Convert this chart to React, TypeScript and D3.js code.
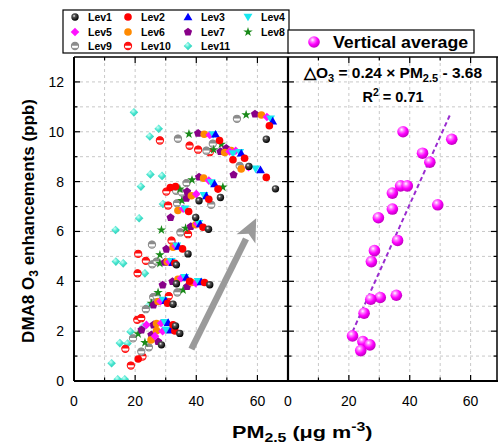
import React from "react";
import * as d3 from "d3";

// ---------------- data ----------------
type P = [number, number];
const lev1: P[] = [[62.9,9.70],[57.2,8.61],[65.9,7.71],[47.9,7.36],[40.9,7.23],[39.8,6.56],[44.0,6.09],[37.3,5.10],[33.5,4.66],[33.5,3.90],[44.4,3.86],[32.4,3.08],[33.2,2.21],[34.6,1.91],[28.6,1.45]];
const lev2: P[] = [[63.9,10.24],[47.6,9.65],[55.8,8.94],[52.0,8.88],[62.9,8.17],[47.1,7.70],[44.1,7.29],[31.5,7.76],[33.2,7.80],[37.5,6.80],[42.2,6.17],[35.5,5.30],[33.0,4.72],[37.8,4.00],[42.7,3.95],[30.6,3.12],[32.4,2.25],[33.0,2.01],[21.0,0.88]];
const lev3: P[] = [[65.0,10.43],[46.3,9.90],[54.7,9.14],[61.0,8.47],[46.0,7.91],[43.3,7.43],[41.3,6.30],[34.2,5.40],[32.3,4.75],[36.8,4.16],[41.6,3.98],[30.0,3.22],[30.8,2.34],[31.6,2.04]];
const lev4: P[] = [[64.3,10.52],[45.5,9.89],[54.2,9.17],[52.0,9.12],[59.4,8.51],[44.9,7.96],[42.5,7.45],[36.3,6.91],[40.8,6.33],[33.6,5.42],[31.8,4.80],[36.2,4.16],[40.6,4.00],[29.2,3.25],[29.7,2.35],[30.1,2.05]];
const lev5: P[] = [[63.1,10.59],[44.4,9.87],[52.9,9.24],[50.9,9.21],[57.1,8.58],[44.1,8.04],[40.0,7.50],[35.7,6.91],[40.3,6.31],[33.2,5.42],[31.2,4.78],[35.0,4.12],[39.8,3.92],[28.3,3.20],[23.7,2.25],[28.5,2.32],[29.0,2.00],[26.5,1.80]];
const lev6: P[] = [[61.3,10.67],[42.6,9.90],[49.3,9.17],[51.4,9.25],[54.7,8.51],[42.4,8.14],[38.4,7.43],[34.0,6.84],[39.8,6.27],[32.4,5.37],[30.5,4.78],[34.0,4.08],[38.5,3.95],[27.5,3.19],[27.0,2.31],[27.0,2.02],[25.2,1.65]];
const lev7: P[] = [[59.2,10.71],[40.6,9.94],[47.9,9.21],[49.8,9.34],[52.2,8.27],[40.9,8.18],[37.0,7.60],[36.8,7.33],[31.6,6.56],[38.2,6.20],[30.2,5.29],[29.7,4.76],[32.2,3.99],[29.0,3.85],[37.0,3.79],[26.0,3.05],[22.1,2.05],[26.0,2.25],[25.3,1.85],[27.5,1.58]];
const lev8: P[] = [[56.3,10.68],[37.6,9.91],[48.2,9.50],[45.7,9.28],[38.6,8.07],[48.7,7.78],[34.6,7.70],[35.3,7.24],[28.6,6.06],[36.5,6.13],[28.1,5.06],[28.1,4.72],[27.5,3.55],[35.7,3.65],[25.3,3.12],[21.0,1.89],[23.2,1.54]];
const lev9: P[] = [[53.3,10.52],[34.0,9.72],[45.4,9.52],[43.3,9.24],[54.2,8.63],[36.8,7.94],[33.4,7.63],[35.3,7.56],[33.7,7.13],[44.9,7.07],[34.8,5.96],[25.5,5.47],[25.6,4.68],[27.0,4.79],[33.8,3.55],[25.9,3.36],[27.0,3.39],[23.5,2.88],[19.3,1.71],[22.0,1.18],[24.5,1.35]];
const lev10: P[] = [[37.8,9.44],[28.1,9.65],[40.6,9.28],[44.4,9.18],[30.2,7.60],[30.8,7.04],[37.3,5.89],[31.9,5.63],[21.0,5.10],[23.5,4.82],[20.8,4.32],[31.0,3.40],[20.7,2.45],[22.0,2.52],[16.8,1.29],[22.4,0.98],[18.6,0.62]];
const lev11: P[] = [[19.6,10.78],[27.7,10.12],[24.8,9.81],[25.0,8.29],[28.8,8.23],[21.9,7.80],[29.1,7.10],[21.3,6.53],[13.6,6.06],[13.7,4.79],[16.1,4.72],[23.2,4.32],[24.2,3.00],[22.6,2.18],[18.5,1.98],[15.0,1.52],[17.5,1.50],[12.3,0.71],[14.3,0.07],[16.6,0.07]];

const levelNames = ["Lev1","Lev2","Lev3","Lev4","Lev5","Lev6","Lev7","Lev8","Lev9","Lev10","Lev11"];
const levelData = [lev1,lev2,lev3,lev4,lev5,lev6,lev7,lev8,lev9,lev10,lev11];

const avgX = [37.8,53.8,44.2,46.6,37.0,39.2,34.3,49.2,34.3,29.7,36.0,28.4,27.4,35.6,30.3,27.2,25.0,21.2,24.6,26.9,23.9];
const avgY = [10.0,9.7,9.14,8.78,7.83,7.83,7.54,7.07,6.9,6.55,5.64,5.23,4.79,3.44,3.35,3.28,2.72,1.81,1.58,1.45,1.22];

const fitX = [21.2, 53.3];
const fitY = [1.98, 10.7];

const arrowX = [38.4, 59.6];
const arrowY = [1.28, 6.53];

const xTickLabels = [0, 20, 40, 60];
const yTickLabels = [0, 2, 4, 6, 8, 10, 12];

// ---------------- layout ----------------
const W = 499, H = 446;
const top = 57, bottom = 381;
const lx0 = 74, mid = 288, rx1 = 498;
const xL = d3.scaleLinear().domain([0, 70]).range([lx0, mid]);
const xR = d3.scaleLinear().domain([0, 69]).range([mid, rx1]);
const y = d3.scaleLinear().domain([0, 13]).range([bottom, top]);
const FONT = "'Liberation Sans', Arial, Helvetica, sans-serif";

const kinds = ["blackSphere","red","triUp","triDown","diamond","orange","pentagon","star","halfGray","halfRed","diamondCyan"];

function pentagon(r: number) {
  const pts = d3.range(5).map(i => {
    const a = -Math.PI / 2 + (i * 2 * Math.PI) / 5;
    return [r * Math.cos(a), r * Math.sin(a)];
  });
  return "M" + pts.map(p => p.join(",")).join("L") + "Z";
}
const triPath = d3.symbol().type(d3.symbolTriangle).size(34)() as string;
const starPath = d3.symbol().type(d3.symbolStar).size(28)() as string;

function Marker({ kind, cx, cy }: { kind: string; cx: number; cy: number }) {
  const t = `translate(${cx},${cy})`;
  switch (kind) {
    case "blackSphere":
      return <circle cx={cx} cy={cy} r={3.7} fill="url(#gBlack)" />;
    case "red":
      return <circle cx={cx} cy={cy} r={3.8} fill="#ff0000" />;
    case "orange":
      return <circle cx={cx} cy={cy} r={3.8} fill="#ff8a00" />;
    case "triUp":
      return <path transform={`translate(${cx},${cy + 0.8})`} d={triPath} fill="#0000ff" />;
    case "triDown":
      return <path transform={`translate(${cx},${cy - 0.8}) rotate(180)`} d={triPath} fill="#18e8f0" />;
    case "diamond":
      return <path transform={t} d="M0,-4.3L4.3,0L0,4.3L-4.3,0Z" fill="#ff10ff" />;
    case "diamondCyan":
      return <path transform={t} d="M0,-4.3L4.3,0L0,4.3L-4.3,0Z" fill="url(#gCyan)" />;
    case "pentagon":
      return <path transform={t} d={pentagon(4.3)} fill="#880088" />;
    case "star":
      return <path transform={t} d={starPath} fill="#1a8a1a" />;
    case "halfGray":
    case "halfRed": {
      const c = kind === "halfGray" ? "#8c8c8c" : "#ff1010";
      const r = 3.6;
      return (
        <g transform={t}>
          <circle r={r} fill="#ffffff" stroke={c} strokeWidth={1.1} />
          <path d={`M${-r},-0.3A${r},${r} 0 0 1 ${r},-0.3Z`} fill={c} />
          <path d={`M${-r * 0.75},2.4L${r * 0.75},2.4`} stroke={c} strokeWidth={1} />
        </g>
      );
    }
  }
  return null;
}

function Ticks({ scale, vals, pos, orient, len }: any) {
  return (
    <g stroke="#000" strokeWidth={1.2}>
      {vals.map((v: number, i: number) => {
        const l = len(v);
        if (orient === "bottom") return <line key={i} x1={scale(v)} x2={scale(v)} y1={pos} y2={pos - l} />;
        if (orient === "top") return <line key={i} x1={scale(v)} x2={scale(v)} y1={pos} y2={pos + l} />;
        if (orient === "left") return <line key={i} y1={scale(v)} y2={scale(v)} x1={pos} x2={pos + l} />;
        return <line key={i} y1={scale(v)} y2={scale(v)} x1={pos} x2={pos - l} />;
      })}
    </g>
  );
}

export default function App() {
  const xMinor = d3.range(10, 70, 10);
  const yMinor = d3.range(1, 13, 1);
  const xLen = (v: number) => (v % 20 === 0 ? 6 : 3.5);
  const yLen = (v: number) => (v % 2 === 0 ? 6 : 3.5);

  // arrow geometry
  const ax0 = xL(arrowX[0]), ay0 = y(arrowY[0]), ax1 = xL(arrowX[1]), ay1 = y(arrowY[1]);
  const ang = Math.atan2(ay1 - ay0, ax1 - ax0);
  const headL = 23, headW = 10.5;
  const bx = ax1 - headL * Math.cos(ang), by = ay1 - headL * Math.sin(ang);
  const nx = -Math.sin(ang), ny = Math.cos(ang);
  const head = `M${ax1},${ay1}L${bx + nx * headW},${by + ny * headW}L${bx + (ax1 - bx) * 0.25},${by + (ay1 - by) * 0.25}L${bx - nx * headW},${by - ny * headW}Z`;

  const legendCols = [75, 128, 188, 248];
  const legendRows = [17, 32, 46];

  return (
    <svg width={W} height={H} style={{ position: "absolute", left: 0, top: 0, background: "#fff" }} fontFamily={FONT}>
      <defs>
        <radialGradient id="gBlack" cx="0.38" cy="0.35" r="0.65">
          <stop offset="0" stopColor="#ffffff" />
          <stop offset="0.3" stopColor="#555" />
          <stop offset="1" stopColor="#000" />
        </radialGradient>
        <radialGradient id="gCyan" cx="0.4" cy="0.35" r="0.7">
          <stop offset="0" stopColor="#c8fff4" />
          <stop offset="0.45" stopColor="#48e6d0" />
          <stop offset="1" stopColor="#2cc8b4" />
        </radialGradient>
        <radialGradient id="gMag" cx="0.38" cy="0.32" r="0.68">
          <stop offset="0" stopColor="#ffffff" />
          <stop offset="0.25" stopColor="#ff80ff" />
          <stop offset="0.6" stopColor="#ff00ff" />
          <stop offset="1" stopColor="#c000c0" />
        </radialGradient>
        <clipPath id="clipL"><rect x={lx0} y={top} width={mid - lx0} height={bottom - top} /></clipPath>
      </defs>

      {/* grids */}
      <g stroke="#c8c8c8" strokeWidth={1} strokeDasharray="3,3">
        {xMinor.map(v => <line key={"gl" + v} x1={xL(v)} x2={xL(v)} y1={top} y2={bottom} />)}
        {xMinor.map(v => <line key={"gr" + v} x1={xR(v)} x2={xR(v)} y1={top} y2={bottom} />)}
        {yMinor.map(v => <line key={"gy" + v} x1={lx0} x2={rx1} y1={y(v)} y2={y(v)} />)}
      </g>

      {/* left panel points */}
      <g clipPath="url(#clipL)">
        {levelData.map((d, li) => li).reverse().map(li => (
          <g key={"lev" + li}>
            {levelData[li].map((p, i) => <Marker key={i} kind={kinds[li]} cx={xL(p[0])} cy={y(p[1])} />)}
          </g>
        ))}
      </g>

      {/* arrow */}
      <line x1={ax0} y1={ay0} x2={bx} y2={by} stroke="#9a9a9a" strokeWidth={6.5} />
      <path d={head} fill="#9a9a9a" />

      {/* right panel */}
      <line x1={xR(fitX[0])} y1={y(fitY[0])} x2={xR(fitX[1])} y2={y(fitY[1])} stroke="#9a2bd0" strokeWidth={2} strokeDasharray="4.5,3" />
      {avgX.map((v, i) => <circle key={"a" + i} cx={xR(v)} cy={y(avgY[i])} r={5.8} fill="url(#gMag)" />)}

      {/* frame */}
      <g fill="none" stroke="#000">
        <line x1={lx0} x2={rx1} y1={top} y2={top} strokeWidth={1.3} />
        <line x1={lx0} x2={rx1} y1={bottom} y2={bottom} strokeWidth={2} />
        <line x1={lx0} x2={lx0} y1={top} y2={bottom} strokeWidth={2} />
        <line x1={mid} x2={mid} y1={top} y2={bottom} strokeWidth={2.2} />
        <line x1={rx1 - 1} x2={rx1 - 1} y1={top} y2={bottom} strokeWidth={1.5} />
      </g>
      <Ticks scale={xL} vals={xMinor} pos={bottom} orient="bottom" len={xLen} />
      <Ticks scale={xR} vals={xMinor} pos={bottom} orient="bottom" len={xLen} />
      <Ticks scale={xL} vals={xMinor} pos={top} orient="top" len={xLen} />
      <Ticks scale={xR} vals={xMinor} pos={top} orient="top" len={xLen} />
      <Ticks scale={y} vals={yMinor} pos={lx0} orient="left" len={yLen} />
      <Ticks scale={y} vals={yMinor} pos={mid} orient="right" len={yLen} />
      <Ticks scale={y} vals={yMinor} pos={mid} orient="left" len={yLen} />
      <Ticks scale={y} vals={yMinor} pos={rx1 - 1} orient="right" len={yLen} />

      {/* tick labels */}
      <g fontSize={14} fill="#000">
        {yTickLabels.map(v => <text key={"yl" + v} x={64} y={y(v) + 5} textAnchor="end">{v}</text>)}
        {xTickLabels.map(v => <text key={"xl" + v} x={xL(v)} y={406} textAnchor="middle">{v}</text>)}
        {xTickLabels.map(v => <text key={"xr" + v} x={xR(v)} y={406} textAnchor="middle">{v}</text>)}
      </g>

      {/* axis titles */}
      <g transform="translate(232,438) scale(1.27,1)">
        <text x={0} y={0} fontSize={17} fontWeight="bold">
          PM<tspan fontSize={12.5} dy={4}>2.5</tspan><tspan dy={-4}> (μg m</tspan><tspan fontSize={12.5} dy={-7}>-3</tspan><tspan dy={7}>)</tspan>
        </text>
      </g>
      <text transform={`translate(34,221) rotate(-90)`} textAnchor="middle" fontSize={17} fontWeight="bold">
        DMA8 O<tspan fontSize={12} dy={4}>3</tspan><tspan dy={-4}> enhancements (ppb)</tspan>
      </text>

      {/* left legend */}
      <rect x={63} y={10} width={226} height={43} fill="#fff" stroke="#000" strokeWidth={1.2} />
      {levelNames.map((n, i) => {
        const cx = legendCols[i % 4], cy = legendRows[Math.floor(i / 4)];
        return (
          <g key={"lg" + i}>
            <Marker kind={kinds[i]} cx={cx} cy={cy} />
            <text x={cx + 13} y={cy + 4} fontSize={10.5} fontWeight="bold">{n}</text>
          </g>
        );
      })}

      {/* right legend */}
      <rect x={mid} y={30} width={186} height={23} fill="#fff" stroke="#000" strokeWidth={1.2} />
      <circle cx={314} cy={42} r={5.8} fill="url(#gMag)" />
      <g transform="translate(333,47.5) scale(1.11,1)">
        <text x={0} y={0} fontSize={16} fontWeight="bold">Vertical average</text>
      </g>

      {/* equation */}
      <text x={393} y={78} textAnchor="middle" fontSize={15.5} fontWeight="bold">
        △O<tspan fontSize={11} dy={3.5}>3</tspan><tspan dy={-3.5}> = 0.24 × PM</tspan><tspan fontSize={11} dy={3.5}>2.5</tspan><tspan dy={-3.5}> - 3.68</tspan>
      </text>
      <text x={393} y={102} textAnchor="middle" fontSize={14.5} fontWeight="bold">
        R<tspan fontSize={10.5} dy={-6}>2</tspan><tspan dy={6}> = 0.71</tspan>
      </text>
    </svg>
  );
}
